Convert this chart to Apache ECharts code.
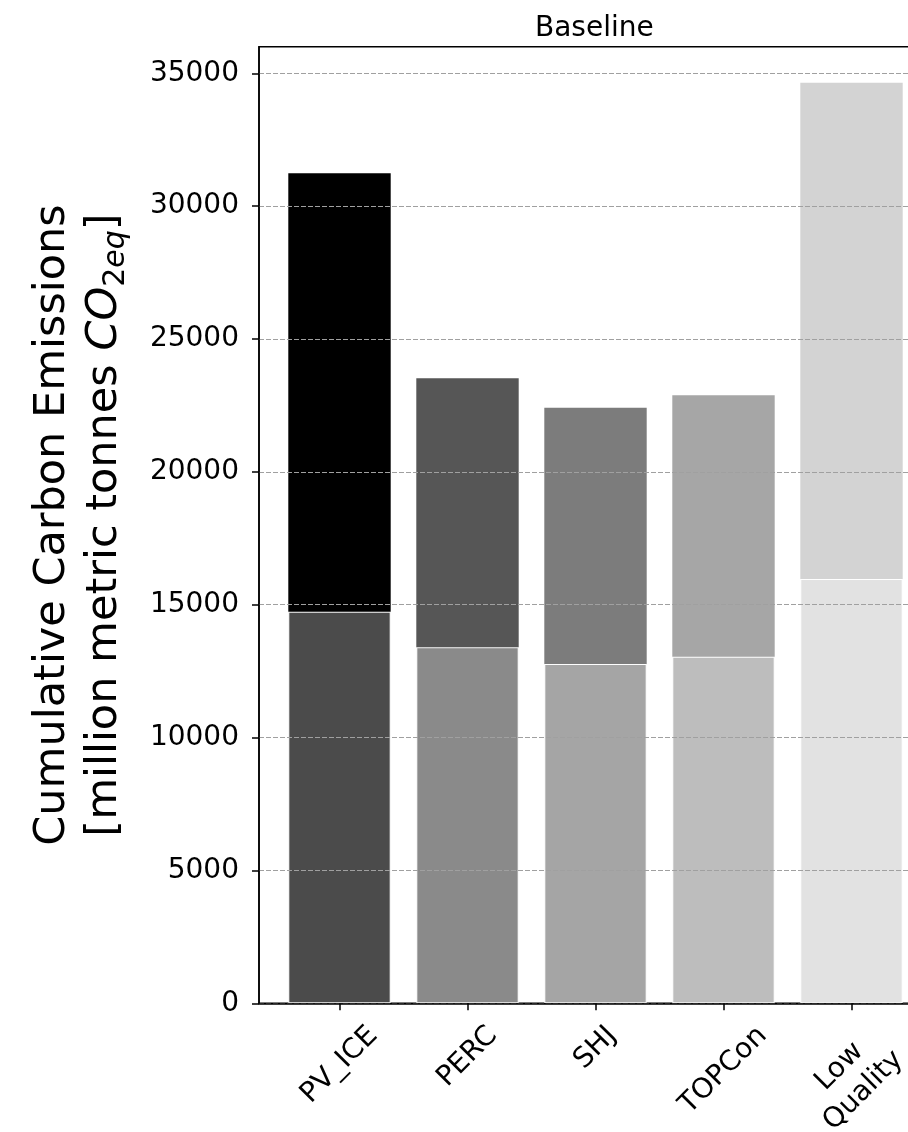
<!DOCTYPE html>
<html>
<head>
<meta charset="utf-8">
<title>Baseline</title>
<script src="https://cdn.jsdelivr.net/npm/echarts@6/dist/echarts.min.js"></script>
<style>
  html, body { margin: 0; padding: 0; background: #fff; }
  #chart { width: 908px; height: 1132px; }
</style>
</head>
<body>
<div id="chart"></div>
<script>
// Cumulative carbon emissions per technology, two stacked components
const categories = ['PV_ICE', 'PERC', 'SHJ', 'TOPCon', 'Low\nQuality'];
const lowerValues = [14740, 13400, 12770, 13045, 15970];
const upperValues = [16500, 10120, 9645, 9835, 18675];
const yTicks = [0, 5000, 10000, 15000, 20000, 25000, 30000, 35000];
const yMax = 36000;

// greyscale shades for each bar, lower and upper part
const lowerColors = ['#4b4b4b', '#8a8a8a', '#a5a5a5', '#bdbdbd', '#e2e2e2'];
const upperColors = ['#000000', '#565656', '#7c7c7c', '#a6a6a6', '#d3d3d3'];

const FONT = 'DejaVu Sans';
const TICK_FONT_SIZE = 28;
const LABEL_LINE_HEIGHT = 34;
const plotTop = 46.7;
const plotHeight = 956.6;

// Rotated category labels: keep each label's bounding box centred under its
// tick with a common top edge, by shifting the text inside its own frame.
const measureCtx = document.createElement('canvas').getContext('2d');
measureCtx.font = TICK_FONT_SIZE + 'px "' + FONT + '"';
function rotatedLabel(name) {
  const lines = name.split('\n');
  const L = Math.max.apply(null, lines.map(s => measureCtx.measureText(s).width));
  const H = lines.length * LABEL_LINE_HEIGHT;
  const v = (L - H) / 4;           // shift along the text normal
  const u = -(L + H) / 4;          // shift along the text direction
  return {
    value: name,
    textStyle: {
      align: 'center',
      verticalAlign: 'top',
      padding: [Math.max(v, 0), -2 * u, 0, 0]
    }
  };
}

const chart = echarts.init(document.getElementById('chart'), null, { renderer: 'canvas' });

chart.setOption({
  animation: false,
  backgroundColor: '#ffffff',
  title: {
    text: 'Baseline',
    left: 535,
    top: 15,
    padding: 0,
    textStyle: { fontFamily: FONT, fontSize: 28, fontWeight: 'normal', color: '#000' }
  },
  grid: [
    // frame: spines, y ticks, grid lines
    {
      left: 259, top: plotTop, width: 676, height: plotHeight, outerBoundsMode: 'none',
      show: true, borderColor: '#000', borderWidth: 1.5, backgroundColor: 'transparent'
    },
    // bars placed in 5 equal bands
    { left: 275.5, top: plotTop, width: 640, height: plotHeight, outerBoundsMode: 'none' }
  ],
  xAxis: [
    {
      gridIndex: 0, type: 'value', min: 0, max: 1, z: 5,
      axisLine: { show: true, lineStyle: { color: '#000', width: 1.5 } },
      axisTick: { show: false }, axisLabel: { show: false }, splitLine: { show: false }
    },
    {
      gridIndex: 1, type: 'category', data: categories.map(rotatedLabel), z: 5,
      axisLine: { show: false },
      axisTick: { show: true, alignWithLabel: true, length: 7, lineStyle: { color: '#000', width: 1.5 } },
      axisLabel: {
        rotate: 45, margin: 16, interval: 0, align: 'center', verticalAlign: 'top',
        fontFamily: FONT, fontSize: TICK_FONT_SIZE, color: '#000', lineHeight: LABEL_LINE_HEIGHT
      },
      splitLine: { show: false }
    }
  ],
  yAxis: [
    {
      gridIndex: 0, type: 'value', min: 0, max: yMax, interval: 5000, z: 5,
      name: '{a|Cumulative Carbon Emissions}\n{a|[million metric tonnes }{i|CO}{s2|2}{se|eq}{a|]}',
      nameLocation: 'middle',
      nameRotate: 90,
      nameGap: 128,
      nameTextStyle: {
        fontFamily: FONT, fontSize: 43, color: '#000', lineHeight: 52,
        rich: {
          a: { fontFamily: FONT, fontSize: 43, lineHeight: 52, color: '#000' },
          i: { fontFamily: FONT, fontSize: 43, lineHeight: 52, fontStyle: 'italic', color: '#000' },
          s2: { fontFamily: FONT, fontSize: 30, lineHeight: 22, verticalAlign: 'bottom', color: '#000' },
          se: { fontFamily: FONT, fontSize: 30, lineHeight: 22, verticalAlign: 'bottom', fontStyle: 'italic', color: '#000' }
        }
      },
      axisLine: { show: true, lineStyle: { color: '#000', width: 1.5 } },
      axisTick: { show: true, length: 7, customValues: yTicks, lineStyle: { color: '#000', width: 1.5 } },
      axisLabel: {
        customValues: yTicks, margin: 20, padding: [5, 0, 0, 0],
        formatter: v => String(v),
        fontFamily: FONT, fontSize: TICK_FONT_SIZE, color: '#000'
      },
      splitLine: { show: true, lineStyle: { color: '#a0a0a0', width: 1, type: [5, 2] } }
    },
    {
      gridIndex: 1, type: 'value', min: 0, max: yMax, show: false,
      splitLine: { show: false }
    }
  ],
  series: [
    {
      type: 'bar', xAxisIndex: 1, yAxisIndex: 1, stack: 'total', barWidth: '80%',
      data: lowerValues.map((v, i) => ({ value: v, itemStyle: { color: lowerColors[i] } })),
      itemStyle: { borderColor: '#ffffff', borderWidth: 1 }
    },
    {
      type: 'bar', xAxisIndex: 1, yAxisIndex: 1, stack: 'total', barWidth: '80%',
      data: upperValues.map((v, i) => ({ value: v, itemStyle: { color: upperColors[i] } }))
    }
  ]
});
</script>
</body>
</html>
